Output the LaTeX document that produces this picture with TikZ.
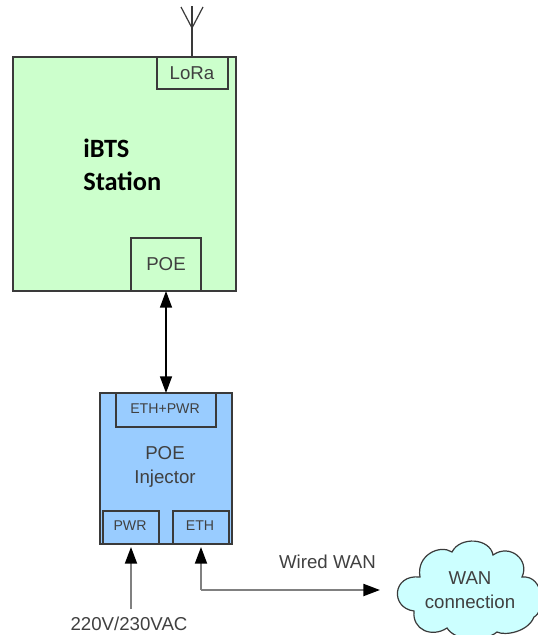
\documentclass[tikz,border=0pt]{standalone}
\usepackage{fontspec}
\setmainfont{Liberation Sans}
\newfontfamily\calib{Carlito}
\usetikzlibrary{arrows.meta}
\definecolor{stgreen}{HTML}{CCFFCC}
\definecolor{injblue}{HTML}{99CCFF}
\definecolor{cloudc}{HTML}{CCFFFF}
\definecolor{edgec}{HTML}{3A3A3A}
\definecolor{txt}{HTML}{404040}
\definecolor{wire}{HTML}{808080}
\tikzset{
  box/.style={draw=edgec,line width=1.3pt,inner sep=0pt,outer sep=0pt,text=txt},
  lab/.style={text=txt,inner sep=0pt,align=center,font=\fontsize{14}{17.5}\selectfont},
  small/.style={font=\fontsize{10.6}{12}\selectfont},
  tip/.style={-{Triangle[length=12.5pt,width=9pt,black]}},
}
\newcommand{\bx}[6]{\node[box,#6,anchor=north west,minimum width=#4*0.75pt,minimum height=#5*0.75pt] (#1) at (#2,#3) {};}
\begin{document}
\begin{tikzpicture}[x=0.75pt,y=-0.75pt]
\useasboundingbox (0,0) rectangle (538,635);
\bx{station}{13}{57}{223}{234}{fill=stgreen}
\bx{lora}{157}{57}{71}{32}{}
\bx{poe}{131}{238}{70}{53}{}
\bx{inj}{100}{393}{132}{151}{fill=injblue}
\bx{ethpwr}{116}{393}{100}{34}{}
\bx{pwr}{103}{511}{56}{33}{}
\bx{eth}{173}{511}{56}{33}{}
\node[lab] (loratxt) at (192,73) {LoRa};
\node[lab] (poetxt) at (166,264.5) {POE};
\node[lab,small] (ethpwrtxt) at (165,409) {ETH+PWR};
\node[lab,small] (pwrtxt) at (130,526) {PWR};
\node[lab,small] (ethtxt) at (200,526) {ETH};
\node[lab] (injtxt) at (165,467) {POE\\Injector};
\node[inner sep=0pt,align=left,anchor=west,text=black,font=\calib\bfseries\fontsize{19.8}{24.7}\selectfont] (ibts) at (83,165) {iBTS\\Station};
\node[lab] (wan) at (327.5,562) {Wired WAN};
\node[lab] (volt) at (129,624) {220V/230VAC};
% antenna
\coordinate (anttop) at (192,6);
\coordinate (antjoin) at (192,28);
\coordinate (antl) at (181,7);
\coordinate (antr) at (203,7);
\draw[edgec,line width=1pt] (lora.north -| anttop) -- (anttop);
\draw[edgec,line width=0.9pt] (antl) -- (antjoin) -- (antr);
% cloud
\draw[fill=cloudc,draw=edgec,line width=0.9pt]
 (414,611) .. controls (390,608) and (392,574) .. (420,577)
 .. controls (416,555) and (440,544) .. (452,552)
 .. controls (460,536) and (490,538) .. (493,555)
 .. controls (510,543) and (530,560) .. (522,577)
 .. controls (545,575) and (545,612) .. (534,617)
 .. controls (528,632) and (505,636) .. (497,632)
 .. controls (485,642) and (456,642) .. (447,628)
 .. controls (432,638) and (412,630) .. (414,611) -- cycle;
\node[lab] (cloudtxt) at (470,590) {WAN\\connection};
% connectors
\draw[{Triangle[length=12.5pt,width=9pt,black]}-{Triangle[length=12.5pt,width=9pt,black]},black,line width=1.1pt] (poe.south) -- (ethpwr.north);
\coordinate (voltend) at (131,609);
\draw[tip,wire,line width=1.4pt] (voltend) -- (pwr.south |- 0,547);
\coordinate (wanarr) at (380,590);
\draw[wire,line width=1.6pt,tip] (eth.south |- 0,590) -- (wanarr);
\draw[wire,line width=1.4pt,tip] (eth.south |- 0,590) -- (eth.south |- 0,547);
\end{tikzpicture}
\end{document}
